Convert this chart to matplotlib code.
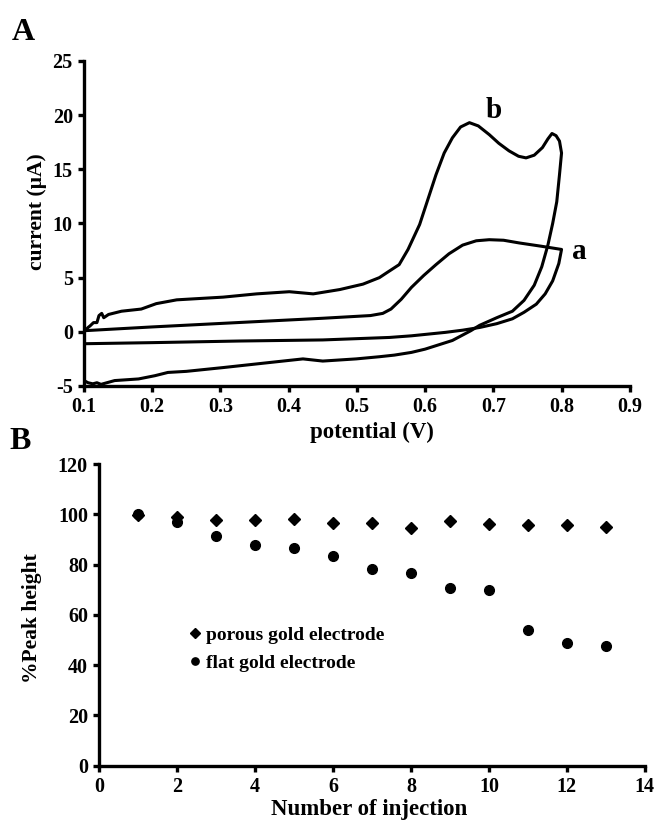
import matplotlib.pyplot as plt

plt.rcParams['font.family'] = 'Liberation Serif'
plt.rcParams['font.weight'] = 'bold'
plt.rcParams['axes.unicode_minus'] = False

# Panel A: cyclic voltammograms (potential in V, current in uA)
b_pot = [0.100, 0.106, 0.109, 0.114, 0.119, 0.122, 0.126, 0.129, 0.136, 0.155, 0.184, 0.206,
         0.236, 0.304, 0.353, 0.401, 0.436, 0.475, 0.509, 0.533, 0.545, 0.562, 0.575, 0.592,
         0.604, 0.616, 0.628, 0.640, 0.652, 0.665, 0.678, 0.694, 0.708, 0.723, 0.737, 0.748,
         0.760, 0.772, 0.780, 0.786, 0.792, 0.797, 0.800,
         0.797, 0.793, 0.787, 0.780, 0.771, 0.760, 0.745, 0.728, 0.705, 0.680, 0.667, 0.655,
         0.640, 0.625, 0.600, 0.580, 0.555, 0.533, 0.499, 0.450, 0.421, 0.377, 0.304, 0.250,
         0.223, 0.204, 0.180, 0.145, 0.125, 0.119, 0.113, 0.106, 0.100]
b_cur = [0.0, 0.4, 0.55, 0.85, 0.85, 1.5, 1.7, 1.3, 1.6, 1.9, 2.1, 2.6,
         2.95, 3.2, 3.5, 3.7, 3.5, 3.9, 4.4, 5.0, 5.5, 6.2, 7.6, 9.9,
         12.2, 14.5, 16.5, 17.9, 18.9, 19.3, 19.0, 18.2, 17.4, 16.7, 16.2, 16.05,
         16.3, 17.0, 17.8, 18.3, 18.1, 17.6, 16.5,
         14.5, 12.0, 10.0, 8.0, 6.0, 4.3, 2.9, 1.9, 1.3, 0.6, 0.1, -0.3,
         -0.8, -1.1, -1.6, -1.9, -2.15, -2.3, -2.5, -2.7, -2.5, -2.8, -3.3, -3.65,
         -3.75, -4.05, -4.35, -4.5, -4.85, -4.7, -4.8, -4.7, -4.5]

a_pot = [0.100, 0.200, 0.328, 0.450, 0.520, 0.538, 0.550, 0.565, 0.580, 0.598, 0.616,
         0.635, 0.655, 0.675, 0.694, 0.715, 0.738, 0.770, 0.800,
         0.796, 0.787, 0.776, 0.763, 0.745, 0.728, 0.705, 0.680, 0.655, 0.630, 0.580,
         0.548, 0.450, 0.328, 0.200, 0.100]
a_cur = [0.1, 0.45, 0.86, 1.25, 1.5, 1.7, 2.1, 3.0, 4.1, 5.2, 6.2,
         7.2, 8.0, 8.4, 8.5, 8.45, 8.2, 7.9, 7.6,
         6.3, 4.7, 3.5, 2.55, 1.8, 1.2, 0.75, 0.4, 0.15, -0.05, -0.37,
         -0.52, -0.75, -0.85, -1.0, -1.1]

# Panel B: stability over repeated injections
injection = [1, 2, 3, 4, 5, 6, 7, 8, 9, 10, 11, 12, 13]
porous = [99.9, 99.1, 97.8, 97.8, 98.0, 96.7, 96.4, 94.5, 97.4, 96.2, 95.8, 95.8, 95.0]
flat = [100.0, 96.8, 91.5, 87.8, 86.5, 83.4, 78.1, 76.5, 70.5, 69.7, 54.1, 48.7, 47.6]

fig = plt.figure(figsize=(6.56, 8.23), dpi=100)
ax1 = fig.add_axes([0.128, 0.531, 0.832, 0.395])
ax2 = fig.add_axes([0.151, 0.0696, 0.832, 0.3666])


def style(ax):
    for s in ['top', 'right']:
        ax.spines[s].set_visible(False)
    for s in ['left', 'bottom']:
        ax.spines[s].set_linewidth(2.4)
    ax.tick_params(direction='out', length=4, width=2.4, labelsize=14.5, pad=4)
    for lab in ax.get_xticklabels() + ax.get_yticklabels():
        lab.set_fontweight('bold')


ax1.plot(b_pot, b_cur, color='black', lw=2.2)
ax1.plot(a_pot, a_cur, color='black', lw=2.2)
ax1.set_xlim(0.1, 0.9)
ax1.set_ylim(-5, 25)
ax1.set_xticks([0.1, 0.2, 0.3, 0.4, 0.5, 0.6, 0.7, 0.8, 0.9])
ax1.set_yticks([-5, 0, 5, 10, 15, 20, 25])
style(ax1)
ax1.set_xlabel('potential (V)', fontsize=16.5, fontweight='bold')
ax1.set_ylabel('current (\u00b5A)', fontsize=15.5, fontweight='bold')
ax1.xaxis.set_label_coords(0.527, -0.11)
ax1.yaxis.set_label_coords(-0.068, 0.535)
ax1.text(0.700, 20.4, 'b', fontsize=21, fontweight='bold', ha='center', va='center')
ax1.text(0.826, 7.4, 'a', fontsize=21, fontweight='bold', ha='center', va='center')

ax2.plot(injection, porous, 'D', color='black', ms=6.5, label='porous gold electrode')
ax2.plot(injection, flat, 'o', color='black', ms=7, label='flat gold electrode')
ax2.set_xlim(0, 14)
ax2.set_ylim(0, 120)
ax2.set_xticks(range(0, 15, 2))
ax2.set_yticks(range(0, 121, 20))
style(ax2)
ax2.set_xlabel('Number of injection', fontsize=16.5, fontweight='bold')
ax2.set_ylabel('%Peak height', fontsize=15.5, fontweight='bold')
ax2.xaxis.set_label_coords(0.495, -0.11)
ax2.yaxis.set_label_coords(-0.104, 0.49)
ax2.legend(loc='upper left', bbox_to_anchor=(0.165, 0.462), frameon=False,
           prop={'size': 14, 'weight': 'bold'}, handlelength=0.6, handletextpad=0.25,
           labelspacing=0.55, borderaxespad=0, borderpad=0, markerscale=0.75)

fig.text(0.018, 0.960, 'A', fontsize=23, fontweight='bold', va='center')
fig.text(0.015, 0.464, 'B', fontsize=23, fontweight='bold', va='center')

fig.savefig('out.png', dpi=100)
